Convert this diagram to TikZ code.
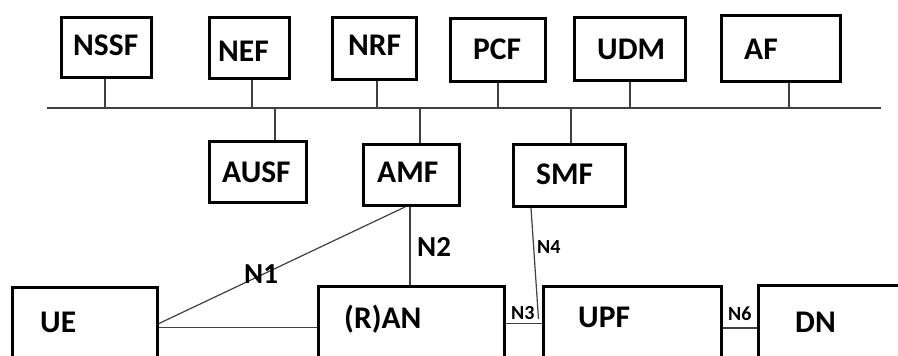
\documentclass[tikz,border=0pt]{standalone}
\usepackage{fontspec}
\setmainfont{Carlito}
\usetikzlibrary{calc}
\tikzset{
  nfbox/.style={draw=black, line width=3pt, inner sep=0pt, rectangle},
  nftext/.style={anchor=base west, inner sep=0pt, font=\fontsize{31.5}{36}\selectfont\bfseries},
  iflabel/.style={anchor=base west, inner sep=0pt, font=\fontsize{29}{33}\selectfont\bfseries},
  smalllabel/.style={anchor=base west, inner sep=0pt, font=\fontsize{20}{24}\selectfont\bfseries},
  conn/.style={draw=black!75, line width=1.2pt},
}
\begin{document}
\begin{tikzpicture}[x=1pt,y=-1pt]
\useasboundingbox (0,0) rectangle (898,356);
\clip (0,0) rectangle (898,356);
\fill[white] (0,0) rectangle (898,356);
% top row boxes
\node[nfbox, minimum width=90pt, minimum height=60pt] (nssf) at (106.5,47.5) {};
\node[nfbox, minimum width=80pt, minimum height=61pt] (nef) at (249.5,48) {};
\node[nfbox, minimum width=84pt, minimum height=62pt] (nrf) at (374.5,48.5) {};
\node[nfbox, minimum width=95pt, minimum height=63pt] (pcf) at (498,50) {};
\node[nfbox, minimum width=111pt, minimum height=63pt] (udm) at (630,49) {};
\node[nfbox, minimum width=119pt, minimum height=66pt] (af) at (781,48.5) {};
% middle row
\node[nfbox, minimum width=97pt, minimum height=61pt] (ausf) at (258,172) {};
\node[nfbox, minimum width=96pt, minimum height=61pt] (amf) at (411.5,175) {};
\node[nfbox, minimum width=112pt, minimum height=62pt] (smf) at (569.5,175.5) {};
% bottom row (extend past the lower edge)
\node[nfbox, minimum width=145pt, minimum height=100pt] (ue) at (85,337.5) {};
\node[nfbox, minimum width=186pt, minimum height=100pt] (ran) at (411.5,336.5) {};
\node[nfbox, minimum width=178pt, minimum height=100pt] (upf) at (632.5,336.5) {};
\node[nfbox, minimum width=160pt, minimum height=100pt] (dn) at (838.5,335.5) {};
% texts
\node[nftext] (nssft) at (73,55) {NSSF};
\node[nftext] (neft) at (218,61) {NEF};
\node[nftext] (nrft) at (348,55) {NRF};
\node[nftext] (pcft) at (473,59) {PCF};
\node[nftext] (udmt) at (597,59) {UDM};
\node[nftext] (aft) at (744,59) {AF};
\node[nftext] (ausft) at (222,182) {AUSF};
\node[nftext] (amft) at (377,182) {AMF};
\node[nftext] (smft) at (536,184) {SMF};
\node[nftext] (uet) at (40,332) {UE};
\node[nftext] (rant) at (344,328) {(R)AN};
\node[nftext] (upft) at (578,327) {UPF};
\node[nftext] (dnt) at (795,332) {DN};
% bus
\coordinate (busL) at (47,108);
\coordinate (busR) at (881,108);
\draw[conn] (busL) -- (busR);
\draw[conn] ([xshift=-1.5pt]nssf.south) coordinate (c1) -- (c1 |- busL);
\draw[conn] ([xshift=2.5pt]nef.south) coordinate (c2) -- (c2 |- busL);
\draw[conn] ([xshift=2.5pt]nrf.south) coordinate (c3) -- (c3 |- busL);
\draw[conn] (pcf.south) coordinate (c4) -- (c4 |- busL);
\draw[conn] (udm.south) coordinate (c5) -- (c5 |- busL);
\draw[conn] ([xshift=8pt]af.south) coordinate (c6) -- (c6 |- busL);
\draw[conn] ([xshift=17pt]ausf.north) coordinate (c7) -- (c7 |- busL);
\draw[conn] ([xshift=8.5pt]amf.north) coordinate (c8) -- (c8 |- busL);
\draw[conn] ([xshift=1.5pt]smf.north) coordinate (c9) -- (c9 |- busL);
% interfaces
\draw[conn] ([yshift=-37.5pt]ue.north east) -- ([xshift=-6.5pt]amf.south);
\draw[conn] ([xshift=-1.5pt]amf.south) coordinate (n2a) -- (n2a |- ran.north);
\draw[conn] ([xshift=-38.5pt]smf.south) -- ([xshift=-3.5pt,yshift=-34pt]upf.north west);
\draw[conn] ([yshift=-41.5pt]ue.north east) coordinate (ur) -- (ur -| ran.west);
\draw[conn] ([yshift=-38.5pt]ran.north east) coordinate (r3) -- (r3 -| upf.west);
\draw[conn] ([yshift=-43pt]upf.north east) coordinate (u6) -- (u6 -| dn.west);
% labels
\node[iflabel] (n1) at (244,283) {N1};
\node[iflabel] (n2) at (417,256) {N2};
\node[smalllabel] (n4) at (537,253) {N4};
\node[smalllabel] (n3) at (511,319) {N3};
\node[smalllabel] (n6) at (728,320) {N6};
\end{tikzpicture}
\end{document}
